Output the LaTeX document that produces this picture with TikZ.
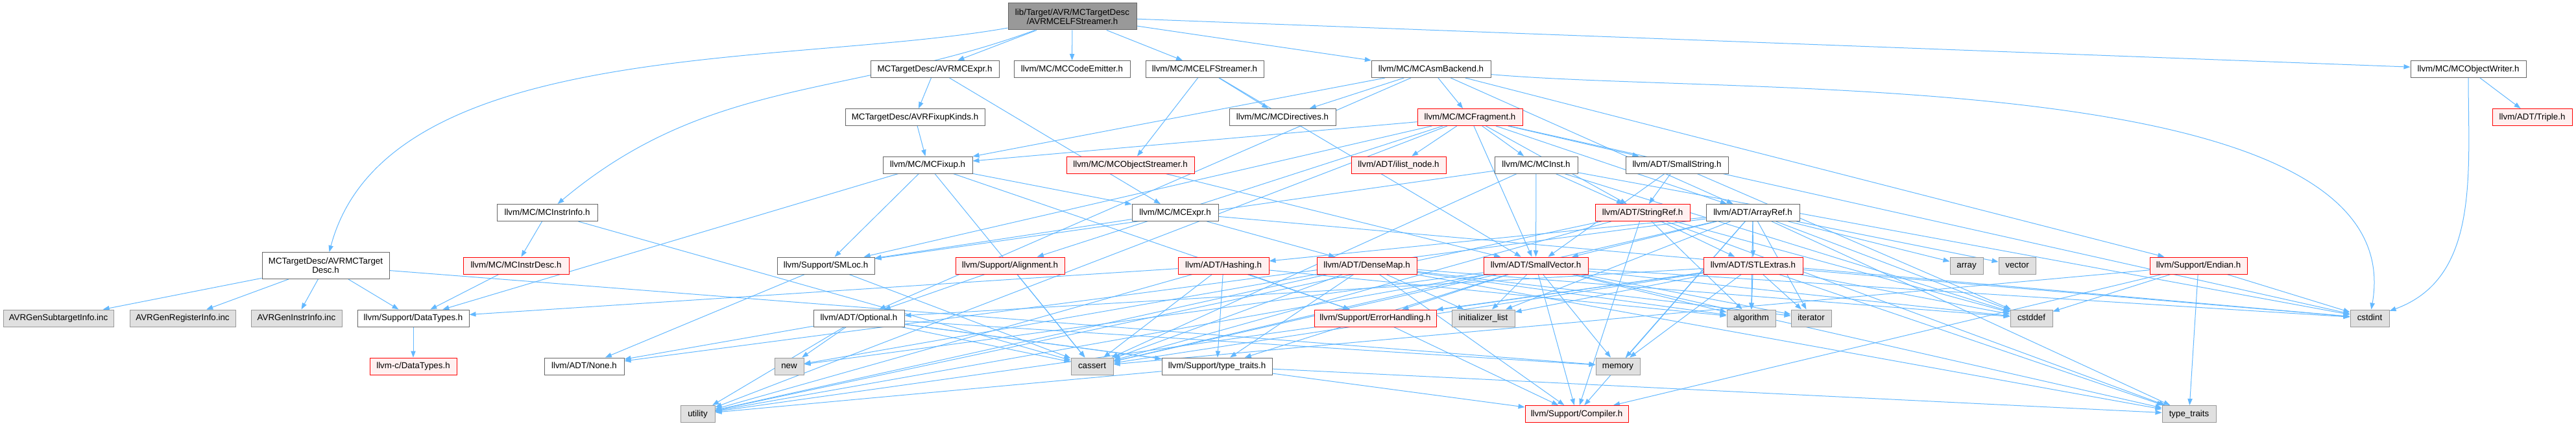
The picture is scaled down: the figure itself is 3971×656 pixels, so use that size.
\documentclass[tikz,border=0pt]{standalone}
\usepackage{fontspec}
\setmainfont{Liberation Sans}
\usetikzlibrary{arrows.meta}
\definecolor{edgeblue}{HTML}{63B8FF}
\definecolor{framegray}{HTML}{666666}
\definecolor{sysframe}{HTML}{999999}
\definecolor{rootfill}{HTML}{999999}
\definecolor{sysfill}{HTML}{E0E0E0}
\definecolor{partfill}{HTML}{FFF0F0}
\pgfdeclarelayer{edges}
\pgfsetlayers{edges,main}
\begin{document}
\begin{tikzpicture}[x=0.75pt, y=-0.75pt, font=\fontsize{10}{10.5}\selectfont,
    box/.style={draw, line width=0.75pt, inner sep=0pt, minimum width=#1*0.75pt, minimum height=19.5pt},
    oneline/.style={text height=7.5pt, text depth=2.2pt},
    file/.style={box=#1, oneline, draw=framegray, fill=white},
    partial/.style={box=#1, oneline, draw=red, fill=partfill},
    sys/.style={box=#1, oneline, draw=sysframe, fill=sysfill},
    twolines/.style={box=#1, align=center, minimum height=30.75pt, draw=framegray},
    dep/.style={draw=edgeblue, line width=0.75pt, -{Triangle[length=7.5pt, width=5.5pt]}}]
    \useasboundingbox (0,0) rectangle (3971,656);

    \node[twolines=198, fill=rootfill] (root) at (1653,25.5) {lib/Target/AVR/MCTargetDesc\\/AVRMCELFStreamer.h};

    \node[file=198] (amcexpr) at (1441,106.5) {MCTargetDesc/AVRMCExpr.h};
    \node[file=179] (codeem) at (1652.5,106.5) {llvm/MC/MCCodeEmitter.h};
    \node[file=182] (elfstr) at (1857,106.5) {llvm/MC/MCELFStreamer.h};
    \node[file=184] (asmback) at (2206,106.5) {llvm/MC/MCAsmBackend.h};
    \node[file=178] (objwriter) at (3805,106.5) {llvm/MC/MCObjectWriter.h};

    \node[file=215] (fixupk) at (1410.5,180.5) {MCTargetDesc/AVRFixupKinds.h};
    \node[file=164] (directives) at (1977,180.5) {llvm/MC/MCDirectives.h};
    \node[partial=162] (fragment) at (2266,180.5) {llvm/MC/MCFragment.h};
    \node[partial=123] (triple) at (3903.5,180.5) {llvm/ADT/Triple.h};

    \node[file=138] (mcfixup) at (1430,254) {llvm/MC/MCFixup.h};
    \node[partial=197] (objstr) at (1742.5,254) {llvm/MC/MCObjectStreamer.h};
    \node[partial=146] (ilist) at (2156,254) {llvm/ADT/ilist\_node.h};
    \node[file=128] (mcinst) at (2368,254) {llvm/MC/MCInst.h};
    \node[file=158] (smallstr) at (2585,254) {llvm/ADT/SmallString.h};

    \node[file=155] (instrinfo) at (843.5,327.5) {llvm/MC/MCInstrInfo.h};
    \node[file=133] (mcexpr) at (1811.5,327.5) {llvm/MC/MCExpr.h};
    \node[partial=146] (stringref) at (2532,327.5) {llvm/ADT/StringRef.h};
    \node[file=144] (arrayref) at (2702,327.5) {llvm/ADT/ArrayRef.h};

    \node[twolines=196, fill=white] (amctd) at (502,409) {MCTargetDesc/AVRMCTarget\\Desc.h};
    \node[partial=163] (instrdesc) at (795.5,409) {llvm/MC/MCInstrDesc.h};
    \node[file=150] (smloc) at (1273,409) {llvm/Support/SMLoc.h};
    \node[partial=168] (alignment) at (1557,409) {llvm/Support/Alignment.h};
    \node[partial=140] (hashing) at (1886,409) {llvm/ADT/Hashing.h};
    \node[partial=154] (densemap) at (2107,409) {llvm/ADT/DenseMap.h};
    \node[partial=161] (smallvec) at (2367.5,409) {llvm/ADT/SmallVector.h};
    \node[partial=153] (stlextras) at (2702.5,409) {llvm/ADT/STLExtras.h};
    \node[sys=51] (array) at (3031.5,409) {array};
    \node[sys=57] (vector) at (3109.5,409) {vector};
    \node[partial=150] (endian) at (3389,409) {llvm/Support/Endian.h};

    \node[sys=170] (subtgt) at (90,490) {AVRGenSubtargetInfo.inc};
    \node[sys=163] (reginfo) at (281.5,490) {AVRGenRegisterInfo.inc};
    \node[sys=140] (instrinc) at (457,490) {AVRGenInstrInfo.inc};
    \node[file=172] (datatypes) at (637,490) {llvm/Support/DataTypes.h};
    \node[file=140] (optional) at (1324,490) {llvm/ADT/Optional.h};
    \node[partial=188] (errhand) at (2120,490) {llvm/Support/ErrorHandling.h};
    \node[sys=97] (initlist) at (2286.5,490) {initializer\_list};
    \node[sys=75] (algorithm) at (2699.5,490) {algorithm};
    \node[sys=62] (iterator) at (2792,490) {iterator};
    \node[sys=65] (cstddef) at (3131.5,490) {cstddef};
    \node[sys=60] (cstdint) at (3653,490) {cstdint};

    \node[partial=134] (llvmc) at (637,564) {llvm-c/DataTypes.h};
    \node[file=123] (none) at (900.5,564) {llvm/ADT/None.h};
    \node[sys=45] (new) at (1216.5,564) {new};
    \node[sys=65] (cassert) at (1683.5,564) {cassert};
    \node[file=170] (llvmtt) at (1876,564) {llvm/Support/type\_traits.h};
    \node[sys=68] (memory) at (2494,564) {memory};

    \node[sys=53] (utility) at (1075.5,637.5) {utility};
    \node[partial=159] (compiler) at (2430.5,637.5) {llvm/Support/Compiler.h};
    \node[sys=83] (typetraits) at (3374.5,637.5) {type\_traits};

    \begin{pgfonlayer}{edges}
    \draw[dep] (root) to[out=190, in=75, looseness=0.8] (amctd);
    \draw[dep] (root) to[out=200, in=40] (instrinfo);
    \draw[dep] (asmback) to[out=-5, in=80, looseness=0.7] (cstdint);
    \draw[dep] (objwriter) to[out=-90, in=20] (cstdint);

    \foreach \s/\t in {root/amcexpr, root/codeem, root/elfstr, root/asmback, root/objwriter,
        amctd/subtgt, amctd/reginfo, amctd/instrinc, amctd/datatypes, amctd/memory,
        amcexpr/mcexpr, amcexpr/fixupk, fixupk/mcfixup,
        elfstr/objstr, elfstr/directives, elfstr/smallvec, objstr/smallvec,
        asmback/directives, asmback/fragment, asmback/mcfixup, asmback/optional, asmback/arrayref, asmback/endian,
        objwriter/triple,
        instrinfo/instrdesc, instrinfo/cassert, instrdesc/datatypes, datatypes/llvmc,
        mcfixup/mcexpr, mcfixup/datatypes, mcfixup/errhand, mcfixup/smloc, mcfixup/cassert,
        mcexpr/densemap, mcexpr/smloc, mcexpr/cstdint,
        fragment/ilist, fragment/mcinst, fragment/smallstr, fragment/stringref, fragment/arrayref,
        fragment/smallvec, fragment/mcfixup, fragment/alignment, fragment/smloc, fragment/cstdint, fragment/utility,
        mcinst/smallvec, mcinst/stringref, mcinst/smloc, mcinst/cassert, mcinst/cstddef, mcinst/cstdint,
        smallstr/smallvec, smallstr/stringref, smallstr/cstddef,
        stringref/stlextras, stringref/compiler, stringref/algorithm, stringref/cassert,
        stringref/cstddef, stringref/typetraits, stringref/utility,
        arrayref/hashing, arrayref/none, arrayref/smallvec, arrayref/stlextras, arrayref/compiler,
        arrayref/algorithm, arrayref/array, arrayref/cassert, arrayref/cstddef, arrayref/initlist,
        arrayref/iterator, arrayref/memory, arrayref/typetraits, arrayref/vector,
        smallvec/compiler, smallvec/errhand, smallvec/llvmtt, smallvec/algorithm, smallvec/cassert,
        smallvec/cstddef, smallvec/cstdint, smallvec/initlist, smallvec/iterator, smallvec/memory,
        smallvec/new, smallvec/typetraits, smallvec/utility,
        stlextras/optional, stlextras/errhand, stlextras/algorithm, stlextras/cassert, stlextras/cstddef,
        stlextras/cstdint, stlextras/initlist, stlextras/iterator, stlextras/memory, stlextras/typetraits,
        stlextras/utility,
        densemap/compiler, densemap/llvmtt, densemap/algorithm, densemap/cassert, densemap/cstddef,
        densemap/initlist, densemap/iterator, densemap/new, densemap/typetraits, densemap/utility,
        hashing/errhand, hashing/llvmtt, hashing/algorithm, hashing/cassert, hashing/utility, hashing/datatypes,
        alignment/optional, alignment/cassert,
        optional/none, optional/compiler, optional/llvmtt, optional/cassert, optional/memory,
        optional/new, optional/utility,
        smloc/none, smloc/cassert,
        llvmtt/typetraits, llvmtt/utility,
        errhand/compiler,
        endian/compiler, endian/cassert, endian/cstddef, endian/cstdint, endian/typetraits} {
        \draw[dep] (\s) -- (\t);
    }
    \end{pgfonlayer}
\end{tikzpicture}
\end{document}
